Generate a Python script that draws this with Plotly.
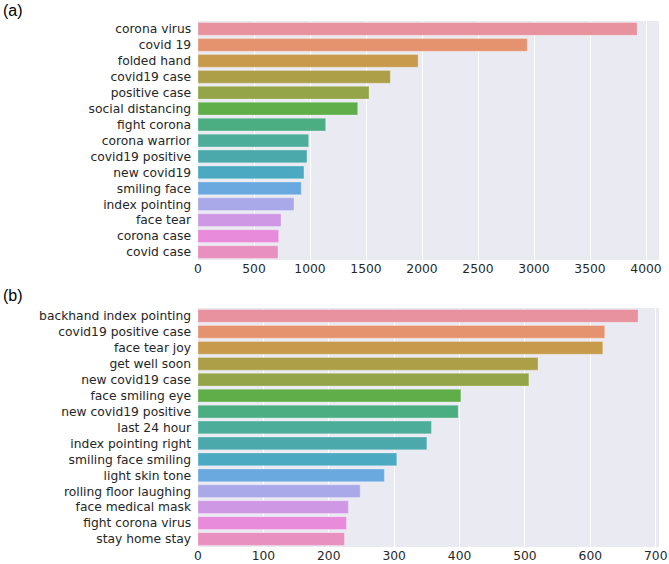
import plotly.graph_objects as go
from plotly.subplots import make_subplots

terms_a = ["corona virus", "covid 19", "folded hand", "covid19 case", "positive case",
           "social distancing", "fight corona", "corona warrior", "covid19 positive",
           "new covid19", "smiling face", "index pointing", "face tear", "corona case", "covid case"]
counts_a = [3920, 2940, 1965, 1717, 1527, 1426, 1140, 988, 973, 946, 922, 857, 741, 720, 714]

terms_b = ["backhand index pointing", "covid19 positive case", "face tear joy", "get well soon",
           "new covid19 case", "face smiling eye", "new covid19 positive", "last 24 hour",
           "index pointing right", "smiling face smiling", "light skin tone",
           "rolling floor laughing", "face medical mask", "fight corona virus", "stay home stay"]
counts_b = [673, 622, 619, 520, 506, 402, 398, 357, 350, 304, 285, 248, 230, 227, 224]

ticks_a = [0, 500, 1000, 1500, 2000, 2500, 3000, 3500, 4000]
ticks_b = [0, 100, 200, 300, 400, 500, 600, 700]

palette = ["#E8919F", "#E5936F", "#C89A4B", "#AD9E48", "#94A448", "#5FAE4A", "#4BAE82",
           "#4CAD9A", "#4BA9AC", "#4CA9C2", "#6AA9DF", "#A9A8E8", "#CF98E5", "#E88BDA", "#E890BF"]

fig = make_subplots(rows=2, cols=1)

fig.add_trace(go.Bar(x=counts_a, y=terms_a, orientation="h",
                     marker=dict(color=palette, line=dict(width=0.8, color="rgba(255,255,255,0.35)")),
                     width=0.8, showlegend=False), row=1, col=1)
fig.add_trace(go.Bar(x=counts_b, y=terms_b, orientation="h",
                     marker=dict(color=palette, line=dict(width=0.8, color="rgba(255,255,255,0.35)")),
                     width=0.8, showlegend=False), row=2, col=1)

axis_font = dict(family="DejaVu Sans", size=12.3, color="#262626")

common_x = dict(showgrid=True, gridcolor="white", gridwidth=1, zeroline=False,
                showline=False, ticks="", tickfont=axis_font, automargin=False)
common_y = dict(autorange="reversed", showgrid=False, zeroline=False, ticks="",
                tickfont=axis_font, ticksuffix=" ", ticklabelstandoff=2, automargin=False)

fig.update_layout(
    width=669, height=564,
    margin=dict(l=198, r=10, t=21, b=17),
    paper_bgcolor="white",
    plot_bgcolor="#EAEAF2",
    font=axis_font,
    xaxis=dict(domain=[0, 1], range=[0, 4116], tickvals=ticks_a, anchor="y", **common_x),
    yaxis=dict(domain=[0.5456, 1], anchor="x", **common_y),
    xaxis2=dict(domain=[0, 1], range=[0, 705], tickvals=ticks_b, anchor="y2", **common_x),
    yaxis2=dict(domain=[0, 0.4544], anchor="x2", **common_y),
    annotations=[
        dict(text="(a)", x=1, y=11, xref="paper", yref="paper", xanchor="left",
             yanchor="middle", showarrow=False,
             font=dict(family="Liberation Sans", size=16, color="#000000")),
        dict(text="(b)", x=1, y=295, xref="paper", yref="paper", xanchor="left",
             yanchor="middle", showarrow=False,
             font=dict(family="Liberation Sans", size=16, color="#000000")),
    ],
)

# convert pixel positions of the panel letters to paper coordinates
plot_w = 669 - 198 - 10
plot_h = 564 - 21 - 17
for ann in fig.layout.annotations:
    px, py = ann.x, ann.y
    ann.x = (px - 198) / plot_w
    ann.y = 1 - (py - 21) / plot_h

fig.write_html("out.html", config={"displayModeBar": False},
               post_script="document.body.style.margin='0';")
